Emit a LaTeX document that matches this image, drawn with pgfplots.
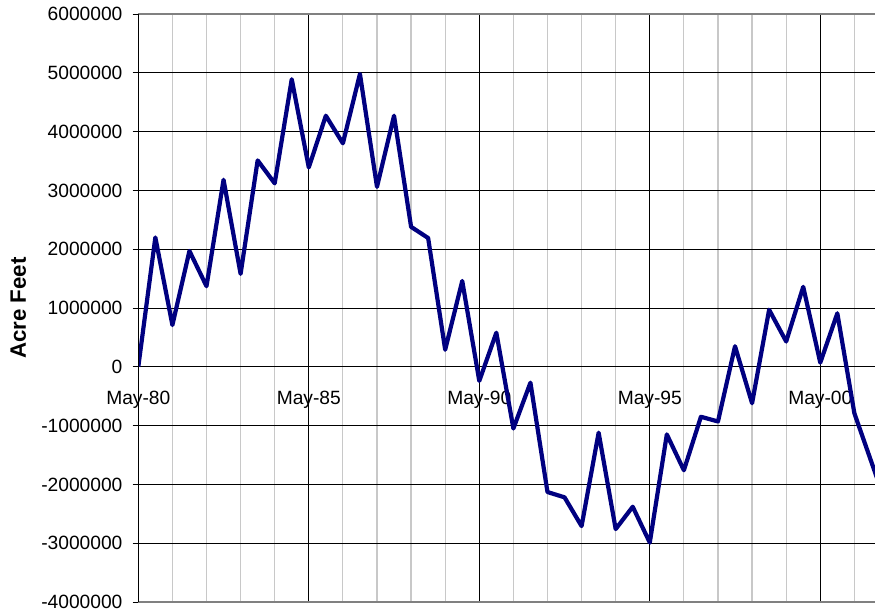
\documentclass[border=0pt]{standalone}
\usepackage{pgfplots}
\pgfplotsset{compat=1.18}
\usepackage{fontspec}
\setmainfont{Liberation Sans}
\definecolor{navyline}{RGB}{0,0,128}
\definecolor{minorgray}{RGB}{200,200,200}
\definecolor{bordergray}{RGB}{128,128,128}
\begin{document}
\begin{tikzpicture}
\begin{axis}[
  scale only axis, width=736.7bp, height=588bp,
  xmin=0, xmax=43.21, ymin=-4000000, ymax=6000000,
  axis x line*=middle, axis y line*=left,
  hide obscured x ticks=false,
  x axis line style={-, black, line width=0.9bp},
  y axis line style={-, black, line width=0.9bp},
  xtick={0,10,20,30,40},
  xticklabels={May-80,May-85,May-90,May-95,May-00},
  minor xtick={2,4,6,8,12,14,16,18,22,24,26,28,32,34,36,38,42},
  ytick={-4000000,-3000000,-2000000,-1000000,0,1000000,2000000,3000000,4000000,5000000,6000000},
  yticklabels={-4000000,-3000000,-2000000,-1000000,0,1000000,2000000,3000000,4000000,5000000,6000000},
  scaled y ticks=false,
  xmajorgrids, xminorgrids, ymajorgrids,
  major grid style={black, line width=0.9bp},
  minor grid style={minorgray, line width=1.2bp},
  xtick style={draw=none},
  minor x tick style={draw=none},
  ytick style={black, line width=0.9bp},
  tick align=outside,
  major tick length=5.7bp,
  tick label style={font=\fontsize{19.2bp}{22bp}\selectfont},
  yticklabel style={anchor=east, inner sep=0pt, xshift=-10bp},
  xticklabel style={anchor=north, inner sep=0pt, yshift=-18bp},
  ylabel={\bfseries Acre Feet},
  ylabel style={at={(rel axis cs:-0.1629,0.5)}, anchor=center, rotate=0, font=\fontsize{22.3bp}{26bp}\selectfont},
]
\addplot[navyline, line width=4.2bp, line join=round] coordinates {
(0,0) (1,2200000) (2,710000) (3,1970000) (4,1370000) (5,3180000)
(6,1580000) (7,3510000) (8,3120000) (9,4890000) (10,3390000)
(11,4270000) (12,3800000) (13,4980000) (14,3060000) (15,4270000)
(16,2380000) (17,2190000) (18,290000) (19,1460000) (20,-240000)
(21,580000) (22,-1050000) (23,-270000) (24,-2130000) (25,-2220000)
(26,-2710000) (27,-1120000) (28,-2760000) (29,-2380000) (30,-2990000)
(31,-1150000) (32,-1760000) (33,-850000) (34,-930000) (35,350000)
(36,-620000) (37,970000) (38,430000) (39,1360000) (40,70000)
(41,910000) (42,-790000) (43,-1620000) (44,-2450000)
};
\coordinate (ll) at (rel axis cs:0,0);
\coordinate (ur) at (rel axis cs:1,1);
\end{axis}
\draw[bordergray, line width=1.2bp] (ll) -- (ll -| ur);
\draw[bordergray, line width=1.2bp] (ur -| ll) -- (ur);
\draw[black, line width=0.9bp] (ll) -- (ur -| ll);
\pgfresetboundingbox
\path[use as bounding box] ([xshift=-138.3bp,yshift=-9bp]ll) rectangle ([yshift=14bp]ur);
\end{tikzpicture}
\end{document}
